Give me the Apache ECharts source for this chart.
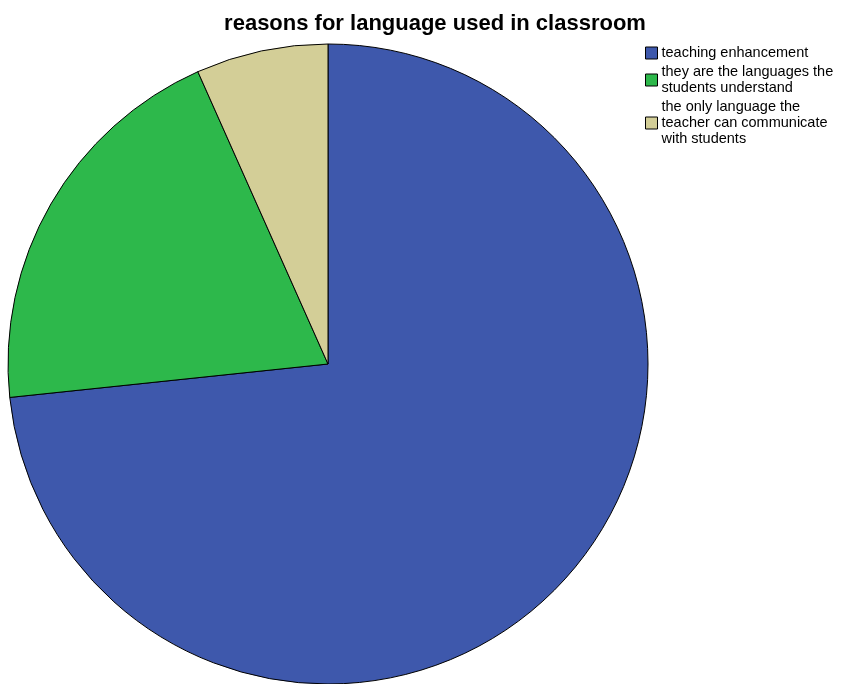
<!DOCTYPE html>
<html>
<head>
<meta charset="utf-8">
<script src="https://cdn.jsdelivr.net/npm/echarts@6/dist/echarts.min.js"></script>
<style>
  html, body { margin: 0; padding: 0; background: #fff; }
  #chart { width: 841px; height: 684px; }
</style>
</head>
<body>
<div id="chart"></div>
<script>
// 饼图数据
var categories = [
    'teaching enhancement',
    'they are the languages the students understand',
    'the only language the teacher can communicate with students'
];
var legendLabels = [
    'teaching enhancement',
    'they are the languages the\nstudents understand',
    'the only language the\nteacher can communicate\nwith students'
];
var counts = [11, 3, 1];
var colors = ['#3e58ac', '#2db84b', '#d3ce97'];

var mychart = echarts.init(document.getElementById('chart'));

var pieData = [];
for (var i = 0; i < categories.length; i++) {
    pieData.push({ name: categories[i], value: counts[i], itemStyle: { color: colors[i] } });
}

var option = {
    animation: false,
    title: {
        text: 'reasons for language used in classroom',
        left: 430,
        textAlign: 'center',
        top: 8,
        textStyle: { fontFamily: 'Liberation Sans', fontSize: 22, fontWeight: 'bold', color: '#000' }
    },
    legend: {
        orient: 'vertical',
        left: 645,
        top: 45,
        padding: 0,
        itemWidth: 12,
        itemHeight: 12,
        itemGap: 3,
        icon: 'rect',
        itemStyle: { borderColor: '#000', borderWidth: 1 },
        textStyle: { fontFamily: 'Liberation Sans', fontSize: 14.5, color: '#000', lineHeight: 16, padding: [0, 0, 0, -1] },
        formatter: function (name) {
            return legendLabels[categories.indexOf(name)];
        },
        data: categories
    },
    series: [{
        type: 'pie',
        center: [328, 364],
        radius: 320,
        startAngle: 90,
        clockwise: true,
        label: { show: false },
        labelLine: { show: false },
        emphasis: { disabled: true },
        itemStyle: { borderColor: '#000', borderWidth: 1 },
        data: pieData
    }]
};

mychart.setOption(option);
</script>
</body>
</html>
